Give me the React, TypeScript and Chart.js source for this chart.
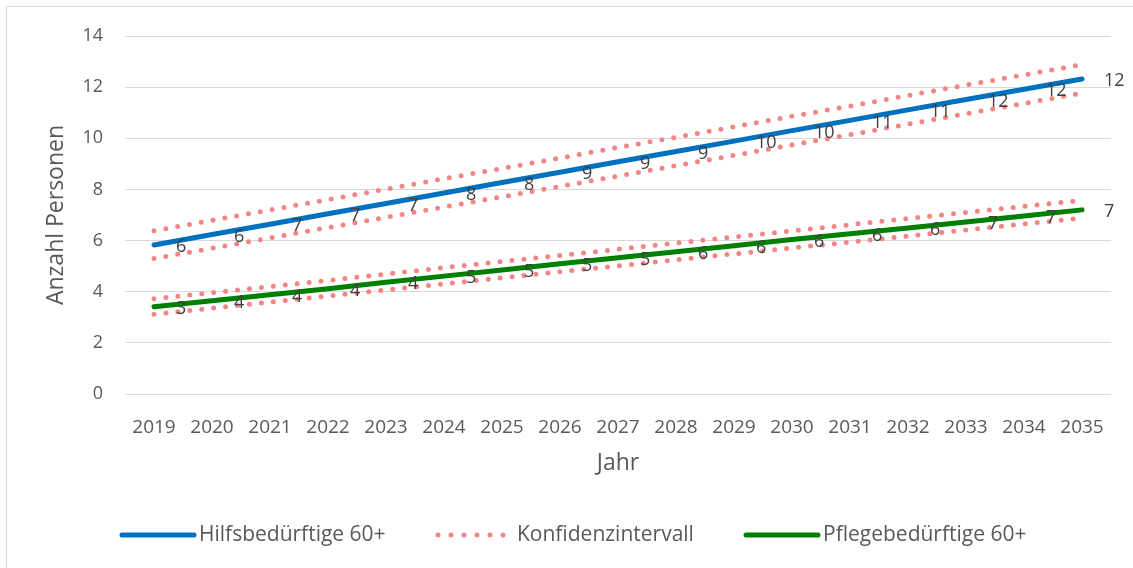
import React, { useEffect, useRef } from "react";
import { Chart, registerables } from "chart.js";

Chart.register(...registerables);

// ---- Data ----
const years = [
  "2019", "2020", "2021", "2022", "2023", "2024", "2025", "2026", "2027",
  "2028", "2029", "2030", "2031", "2032", "2033", "2034", "2035",
];

const hilfsbeduerftige = [
  5.83, 6.24, 6.64, 7.05, 7.45, 7.86, 8.27, 8.67, 9.08, 9.48, 9.89, 10.3, 10.7,
  11.11, 11.52, 11.92, 12.32,
];
const hilfsUpper = [
  6.38, 6.79, 7.2, 7.6, 8.01, 8.42, 8.82, 9.23, 9.64, 10.04, 10.45, 10.86,
  11.26, 11.67, 12.08, 12.48, 12.88,
];
const hilfsLower = [
  5.3, 5.7, 6.1, 6.51, 6.91, 7.31, 7.71, 8.12, 8.52, 8.93, 9.33, 9.74, 10.14,
  10.55, 10.96, 11.36, 11.77,
];

const pflegebeduerftige = [
  3.41, 3.65, 3.88, 4.12, 4.37, 4.61, 4.85, 5.09, 5.33, 5.56, 5.8, 6.04, 6.27,
  6.49, 6.73, 6.96, 7.2,
];
const pflegeUpper = [
  3.72, 3.96, 4.2, 4.44, 4.69, 4.94, 5.18, 5.42, 5.66, 5.9, 6.14, 6.38, 6.62,
  6.86, 7.1, 7.34, 7.58,
];
const pflegeLower = [
  3.12, 3.36, 3.59, 3.83, 4.07, 4.31, 4.54, 4.78, 5.01, 5.25, 5.48, 5.71, 5.94,
  6.18, 6.41, 6.65, 6.88,
];

const yMin = 0;
const yMax = 14;
const yStep = 2;

const seriesNames = ["Hilfsbedürftige 60+", "Konfidenzintervall", "Pflegebedürftige 60+"];
const axisTitleY = "Anzahl Personen";
const axisTitleX = "Jahr";

// ---- Styles ----
const BLUE = "#0070C0";
const GREEN = "#008000";
const CI = "#F08784";
const TEXT = "#595959";
const LABEL = "#404040";
const GRID = "#D9D9D9";
const FONT = "'Open Sans', 'Noto Sans', sans-serif";

const labelledDatasets = [0, 5];

const dataLabelPlugin = {
  id: "dataLabels",
  afterDatasetsDraw(chart: any) {
    const ctx = chart.ctx;
    ctx.save();
    ctx.font = `18px ${FONT}`;
    ctx.fillStyle = LABEL;
    ctx.textAlign = "left";
    ctx.textBaseline = "middle";
    labelledDatasets.forEach((di) => {
      const meta = chart.getDatasetMeta(di);
      const data = chart.data.datasets[di].data as number[];
      meta.data.forEach((pt: any, i: number) => {
        ctx.fillText(String(Math.round(data[i])), pt.x + 22, pt.y + 2);
      });
    });
    ctx.restore();
  },
};

const legendPlugin = {
  id: "customLegend",
  afterDraw(chart: any) {
    const ctx = chart.ctx;
    ctx.save();
    // outer chart border (top and left visible)
    ctx.strokeStyle = GRID;
    ctx.lineWidth = 1;
    ctx.strokeRect(6.5, 6.5, 1200, 700);

    const y = 535;
    ctx.font = `21px ${FONT}`;
    ctx.textBaseline = "middle";
    ctx.textAlign = "left";
    const items = [
      { x: 122, len: 72, color: BLUE, dotted: false, text: seriesNames[0] },
      { x: 438, len: 66, color: CI, dotted: true, text: seriesNames[1] },
      { x: 746, len: 72, color: GREEN, dotted: false, text: seriesNames[2] },
    ];
    items.forEach((it) => {
      ctx.beginPath();
      ctx.strokeStyle = it.color;
      ctx.lineWidth = 5;
      ctx.lineCap = "round";
      if (it.dotted) ctx.setLineDash([0, 13]);
      else ctx.setLineDash([]);
      ctx.moveTo(it.x, y);
      ctx.lineTo(it.x + it.len, y);
      ctx.stroke();
      ctx.setLineDash([]);
      ctx.fillStyle = TEXT;
      ctx.fillText(it.text, it.x + it.len + (it.dotted ? 13 : 5), y);
    });
    ctx.restore();
  },
};

function mainLine(label: string, data: number[], color: string) {
  return {
    label,
    data,
    borderColor: color,
    backgroundColor: color,
    borderWidth: 5,
    borderCapStyle: "round" as const,
    borderJoinStyle: "round" as const,
    pointRadius: 0,
    fill: false,
    tension: 0,
  };
}

function ciLine(label: string, data: number[]) {
  return {
    label,
    data,
    borderColor: CI,
    backgroundColor: CI,
    borderWidth: 5,
    borderDash: [0, 12],
    borderCapStyle: "round" as const,
    pointRadius: 0,
    fill: false,
    tension: 0,
  };
}

export default function App() {
  const canvasRef = useRef<HTMLCanvasElement | null>(null);

  useEffect(() => {
    document.body.style.margin = "0";
    const canvas = canvasRef.current;
    if (!canvas) return;
    const chart = new Chart(canvas, {
      type: "line",
      data: {
        labels: years,
        datasets: [
          mainLine(seriesNames[0], hilfsbeduerftige, BLUE),
          ciLine(seriesNames[1], hilfsUpper),
          ciLine(seriesNames[1], hilfsLower),
          ciLine(seriesNames[1], pflegeUpper),
          ciLine(seriesNames[1], pflegeLower),
          mainLine(seriesNames[2], pflegebeduerftige, GREEN),
        ] as any,
      },
      options: {
        responsive: false,
        animation: false,
        devicePixelRatio: 1,
        layout: { padding: { top: 36, right: 22, bottom: 84, left: 0 } },
        plugins: {
          legend: { display: false },
          tooltip: { enabled: false },
          title: { display: false },
        },
        scales: {
          x: {
            type: "category",
            offset: true,
            grid: { display: false, drawTicks: false },
            border: { display: false },
            ticks: {
              autoSkip: false,
              maxRotation: 0,
              minRotation: 0,
              padding: 22,
              color: TEXT,
              font: { family: FONT, size: 19 },
            },
            title: {
              display: true,
              text: axisTitleX,
              color: TEXT,
              font: { family: FONT, size: 23 },
              padding: { top: 0, bottom: 7 },
            },
            afterFit(scale: any) {
              scale.height = 90;
            },
          },
          y: {
            min: yMin,
            max: yMax,
            grid: { color: GRID, lineWidth: 1, drawTicks: false },
            border: { display: false },
            ticks: {
              stepSize: yStep,
              padding: 22,
              color: TEXT,
              font: { family: FONT, size: 18 },
            },
            title: {
              display: true,
              text: axisTitleY,
              color: TEXT,
              font: { family: FONT, size: 23 },
              padding: { top: 43, bottom: 0 },
            },
            afterFit(scale: any) {
              scale.width = 125;
            },
          },
        },
      } as any,
      plugins: [dataLabelPlugin, legendPlugin],
    });
    return () => chart.destroy();
  }, []);

  return (
    <div style={{ position: "absolute", left: 0, top: 0, width: 1133, height: 568, background: "#fff" }}>
      <canvas ref={canvasRef} width={1133} height={568} style={{ display: "block" }} />
    </div>
  );
}
